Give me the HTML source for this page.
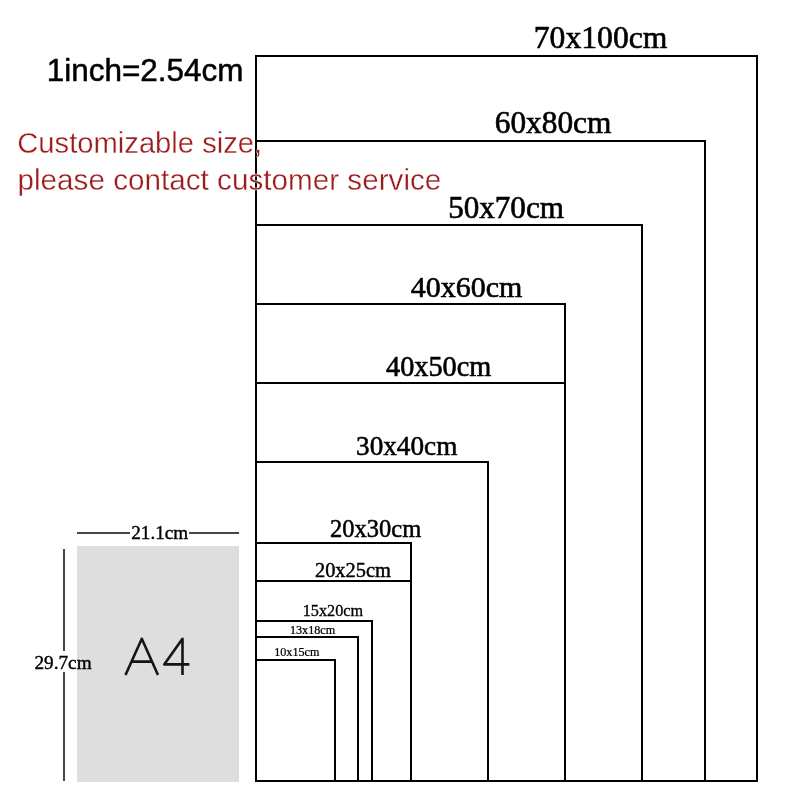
<!DOCTYPE html>
<html><head><meta charset="utf-8"><style>
html,body{margin:0;padding:0;background:#fff;width:800px;height:800px;overflow:hidden}
svg{display:block;will-change:transform}

</style></head><body>
<svg width="800" height="800" viewBox="0 0 800 800">
<rect x="0" y="0" width="800" height="800" fill="#fff"/>
<rect x="77" y="546" width="162" height="236" fill="#dedede"/>
<rect x="77" y="532" width="53" height="2" fill="#474747"/>
<rect x="189" y="532" width="50" height="2" fill="#474747"/>
<rect x="63" y="549" width="2" height="102" fill="#474747"/>
<rect x="63" y="672" width="2" height="109" fill="#474747"/>
<path d="M125.5 675 L141.8 638.8 L158 675 M132.5 661.6 L151.2 661.6 M182.5 675 L182.5 638.8 L164.2 664.4 L189.4 664.4" fill="none" stroke="#151515" stroke-width="2.6" stroke-linejoin="round" stroke-linecap="butt"/>
<g fill="#000">
<rect x="255" y="55" width="2" height="727"/>
<rect x="255" y="780" width="503" height="2"/>
<rect x="255" y="55" width="503" height="2"/>
<rect x="756" y="55" width="2" height="727"/>
<rect x="255" y="140" width="451" height="2"/>
<rect x="704" y="140" width="2" height="642"/>
<rect x="255" y="224" width="388" height="2"/>
<rect x="641" y="224" width="2" height="558"/>
<rect x="255" y="303" width="311" height="2"/>
<rect x="564" y="303" width="2" height="479"/>
<rect x="255" y="382" width="311" height="2"/>
<rect x="564" y="382" width="2" height="400"/>
<rect x="255" y="461" width="234" height="2"/>
<rect x="487" y="461" width="2" height="321"/>
<rect x="255" y="542" width="157" height="2"/>
<rect x="410" y="542" width="2" height="240"/>
<rect x="255" y="580" width="157" height="2"/>
<rect x="410" y="580" width="2" height="202"/>
<rect x="255" y="620" width="118" height="2"/>
<rect x="371" y="620" width="2" height="162"/>
<rect x="255" y="636" width="104" height="2"/>
<rect x="357" y="636" width="2" height="146"/>
<rect x="255" y="659" width="81" height="2"/>
<rect x="334" y="659" width="2" height="123"/>
</g>
<text x="533.79" y="48.00" style="font-family:&quot;Liberation Serif&quot;" font-size="31.73" textLength="133.59" lengthAdjust="spacingAndGlyphs" fill="#000" stroke="#000" stroke-width="0.64">70x100cm</text>
<text x="494.75" y="133.00" style="font-family:&quot;Liberation Serif&quot;" font-size="31.82" textLength="116.62" lengthAdjust="spacingAndGlyphs" fill="#000" stroke="#000" stroke-width="0.65">60x80cm</text>
<text x="448.13" y="217.60" style="font-family:&quot;Liberation Serif&quot;" font-size="31.41" textLength="115.83" lengthAdjust="spacingAndGlyphs" fill="#000" stroke="#000" stroke-width="0.63">50x70cm</text>
<text x="410.80" y="297.00" style="font-family:&quot;Liberation Serif&quot;" font-size="30.37" textLength="111.55" lengthAdjust="spacingAndGlyphs" fill="#000" stroke="#000" stroke-width="0.62">40x60cm</text>
<text x="386.03" y="376.00" style="font-family:&quot;Liberation Serif&quot;" font-size="29.53" textLength="105.30" lengthAdjust="spacingAndGlyphs" fill="#000" stroke="#000" stroke-width="0.62">40x50cm</text>
<text x="356.04" y="455.00" style="font-family:&quot;Liberation Serif&quot;" font-size="27.45" textLength="101.28" lengthAdjust="spacingAndGlyphs" fill="#000" stroke="#000" stroke-width="0.55">30x40cm</text>
<text x="330.02" y="537.00" style="font-family:&quot;Liberation Serif&quot;" font-size="25.34" textLength="91.27" lengthAdjust="spacingAndGlyphs" fill="#000" stroke="#000" stroke-width="0.52">20x30cm</text>
<text x="314.93" y="577.00" style="font-family:&quot;Liberation Serif&quot;" font-size="20.99" textLength="76.06" lengthAdjust="spacingAndGlyphs" fill="#000" stroke="#000" stroke-width="0.43">20x25cm</text>
<text x="302.74" y="616.30" style="font-family:&quot;Liberation Serif&quot;" font-size="15.91" textLength="60.35" lengthAdjust="spacingAndGlyphs" fill="#000" stroke="#000" stroke-width="0.31">15x20cm</text>
<text x="289.91" y="633.50" style="font-family:&quot;Liberation Serif&quot;" font-size="12.14" textLength="45.24" lengthAdjust="spacingAndGlyphs" fill="#000" stroke="#000" stroke-width="0.24">13x18cm</text>
<text x="274.21" y="656.20" style="font-family:&quot;Liberation Serif&quot;" font-size="11.83" textLength="45.24" lengthAdjust="spacingAndGlyphs" fill="#000" stroke="#000" stroke-width="0.23">10x15cm</text>
<text x="131.23" y="538.50" style="font-family:&quot;Liberation Serif&quot;" font-size="19.06" textLength="56.99" lengthAdjust="spacingAndGlyphs" fill="#000" stroke="#000" stroke-width="0.4">21.1cm</text>
<text x="34.43" y="668.70" style="font-family:&quot;Liberation Serif&quot;" font-size="19.58" textLength="57.20" lengthAdjust="spacingAndGlyphs" fill="#000" stroke="#000" stroke-width="0.4">29.7cm</text>
<text x="46.68" y="80.70" style="font-family:&quot;Liberation Sans&quot;" font-size="31.36" textLength="196.93" lengthAdjust="spacingAndGlyphs" fill="#000" stroke="#000" stroke-width="0.5">1inch=2.54cm</text>
<text x="17.29" y="153.40" style="font-family:&quot;Liberation Sans&quot;" font-size="29.20" textLength="244.90" lengthAdjust="spacingAndGlyphs" fill="#9e1b1b" stroke="#fff" stroke-width="0.3">Customizable size,</text>
<text x="17.52" y="190.20" style="font-family:&quot;Liberation Sans&quot;" font-size="29.70" textLength="423.79" lengthAdjust="spacingAndGlyphs" fill="#9e1b1b" stroke="#fff" stroke-width="0.3">please contact customer service</text>
</svg>
</body></html>
